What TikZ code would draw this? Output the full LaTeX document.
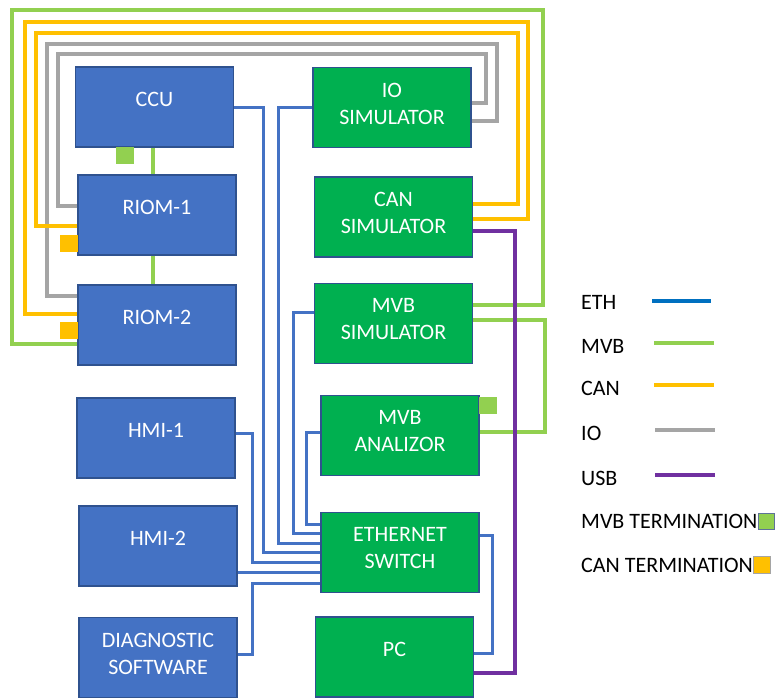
\documentclass[tikz,border=0pt]{standalone}
\usepackage{fontspec}
\setmainfont{Carlito}

\definecolor{unitblue}{HTML}{4472C4}
\definecolor{unitedge}{HTML}{2F528F}
\definecolor{simgreen}{HTML}{00B050}
\definecolor{ethblue}{HTML}{4472C4}
\definecolor{ethkey}{HTML}{0070C0}
\definecolor{mvbgreen}{HTML}{92D050}
\definecolor{canorange}{HTML}{FFC000}
\definecolor{iogray}{HTML}{A5A5A5}
\definecolor{usbpurple}{HTML}{7030A0}

\begin{document}
\begin{tikzpicture}[x=1pt,y=-1pt,
  unit/.style={draw=unitedge,line width=1.5pt,fill=unitblue,minimum width=158pt,minimum height=80pt,inner sep=0pt},
  sim/.style={unit,fill=simgreen},
  tag/.style={text=white,align=center,inner sep=0pt,font=\fontsize{22}{27}\selectfont},
  eth/.style={draw=ethblue,line width=3pt},
  mvb/.style={draw=mvbgreen,line width=3.5pt},
  can/.style={draw=canorange,line width=3.5pt},
  io/.style={draw=iogray,line width=3.5pt},
  usb/.style={draw=usbpurple,line width=3.5pt},
  term/.style={inner sep=0pt,minimum width=18pt,minimum height=17pt},
  keytext/.style={anchor=west,inner sep=0pt,font=\fontsize{22}{27}\selectfont}]
  \useasboundingbox (0,0) rectangle (776,698);

  % train side
  \node[unit,label={[tag,yshift=8pt]center:CCU}] (ccu) at (154.5,107) {};
  \node[unit,label={[tag,yshift=8pt]center:RIOM-1}] (riom1) at (157,215) {};
  \node[unit,label={[tag,yshift=8pt]center:RIOM-2}] (riom2) at (157,325) {};
  \node[unit,label={[tag,yshift=8pt]center:HMI-1}] (hmi1) at (156,438) {};
  \node[unit,label={[tag,yshift=8pt]center:HMI-2}] (hmi2) at (158,546) {};
  \node[unit,label={[tag,yshift=4pt]center:DIAGNOSTIC\\SOFTWARE}] (diag) at (158,657.5) {};

  % test bench side
  \node[sim,label={[tag,yshift=4pt]center:IO\\SIMULATOR}] (iosim) at (392,107.5) {};
  \node[sim,label={[tag,yshift=4pt]center:CAN\\SIMULATOR}] (cansim) at (393.5,217) {};
  \node[sim,label={[tag,yshift=4pt]center:MVB\\SIMULATOR}] (mvbsim) at (393.5,323.5) {};
  \node[sim,label={[tag,yshift=4pt]center:MVB\\ANALIZOR}] (analizor) at (400,435.5) {};
  \node[sim,label={[tag,yshift=4pt]center:ETHERNET\\SWITCH}] (switch) at (400,552.5) {};
  \node[sim,label={[tag,yshift=8pt]center:PC}] (pc) at (394.5,657) {};

  % IO wiring
  \draw[io] (riom1.west |- 0,206) -| (58,54) -| (486,103) -- (iosim.east |- 0,103);
  \draw[io] (riom2.west |- 0,296) -| (47,44) -| (497,121) -- (iosim.east |- 0,121);
  % CAN wiring
  \draw[can] (riom1.west |- 0,226) -| (36,33) -| (518,204) -- (cansim.east |- 0,204);
  \draw[can] (riom2.west |- 0,314) -| (25,22) -| (528,219) -- (cansim.east |- 0,219);
  % MVB wiring
  \draw[mvb] (riom2.west |- 0,344) -| (12,10) -| (543,305) -- (mvbsim.east |- 0,305);
  \draw[mvb] (mvbsim.east |- 0,320) -| (545,432) -- (analizor.east |- 0,432);
  \draw[mvb] (ccu.south -| 153,0) -- (riom1.north -| 153,0);
  \draw[mvb] (riom1.south -| 153,0) -- (riom2.north -| 153,0);
  % USB
  \draw[usb] (cansim.east |- 0,231) -| (515,673) -- (pc.east |- 0,673);
  % ethernet
  \draw[eth] (ccu.east |- 0,108) -| (263,552) -- (switch.west |- 0,552);
  \draw[eth] (iosim.west |- 0,108) -| (278,543) -- (switch.west |- 0,543);
  \draw[eth] (mvbsim.west |- 0,312) -| (293,533) -- (switch.west |- 0,533);
  \draw[eth] (analizor.west |- 0,432) -| (306,524) -- (switch.west |- 0,524);
  \draw[eth] (hmi1.east |- 0,433) -| (252,562) -- (switch.west |- 0,562);
  \draw[eth] (hmi2.east |- 0,572) -- (switch.west |- 0,572);
  \draw[eth] (diag.east |- 0,654) -| (252,583) -- (switch.west |- 0,583);
  \draw[eth] (switch.east |- 0,535) -| (492,653) -- (pc.east |- 0,653);

  % terminations
  \node[term,fill=mvbgreen,anchor=north] (ccuterm) at (125,147) {};
  \node[term,fill=mvbgreen,anchor=west] (anaterm) at (479,405) {};
  \node[term,fill=canorange,anchor=east] (riom1term) at (78,243.5) {};
  \node[term,fill=canorange,anchor=east] (riom2term) at (78,330.5) {};

  % key
  \node[keytext] (keyeth) at (581,302) {ETH};
  \node[keytext] (keymvb) at (581,346) {MVB};
  \node[keytext] (keycan) at (581,388) {CAN};
  \node[keytext] (keyio) at (581,433) {IO};
  \node[keytext] (keyusb) at (581,478) {USB};
  \node[keytext] (keymvbterm) at (581,521) {MVB TERMINATION};
  \node[keytext] (keycanterm) at (581,565) {CAN TERMINATION};
  \draw[draw=ethkey,line width=3.5pt] (652,301) -- (711,301);
  \draw[mvb] (654,343) -- (714,343);
  \draw[can] (654,385) -- (714,385);
  \draw[io] (655,430) -- (715,430);
  \draw[usb] (655,475) -- (715,475);
  \node[term,fill=mvbgreen,draw=unitedge!60!iogray,line width=0.8pt,minimum width=16pt,minimum height=16pt,anchor=west] (keymvbbox) at (keymvbterm.east) {};
  \node[term,fill=canorange,draw=iogray,line width=0.8pt,minimum width=17pt,minimum height=17pt,anchor=west] (keycanbox) at (keycanterm.east) {};
\end{tikzpicture}
\end{document}
